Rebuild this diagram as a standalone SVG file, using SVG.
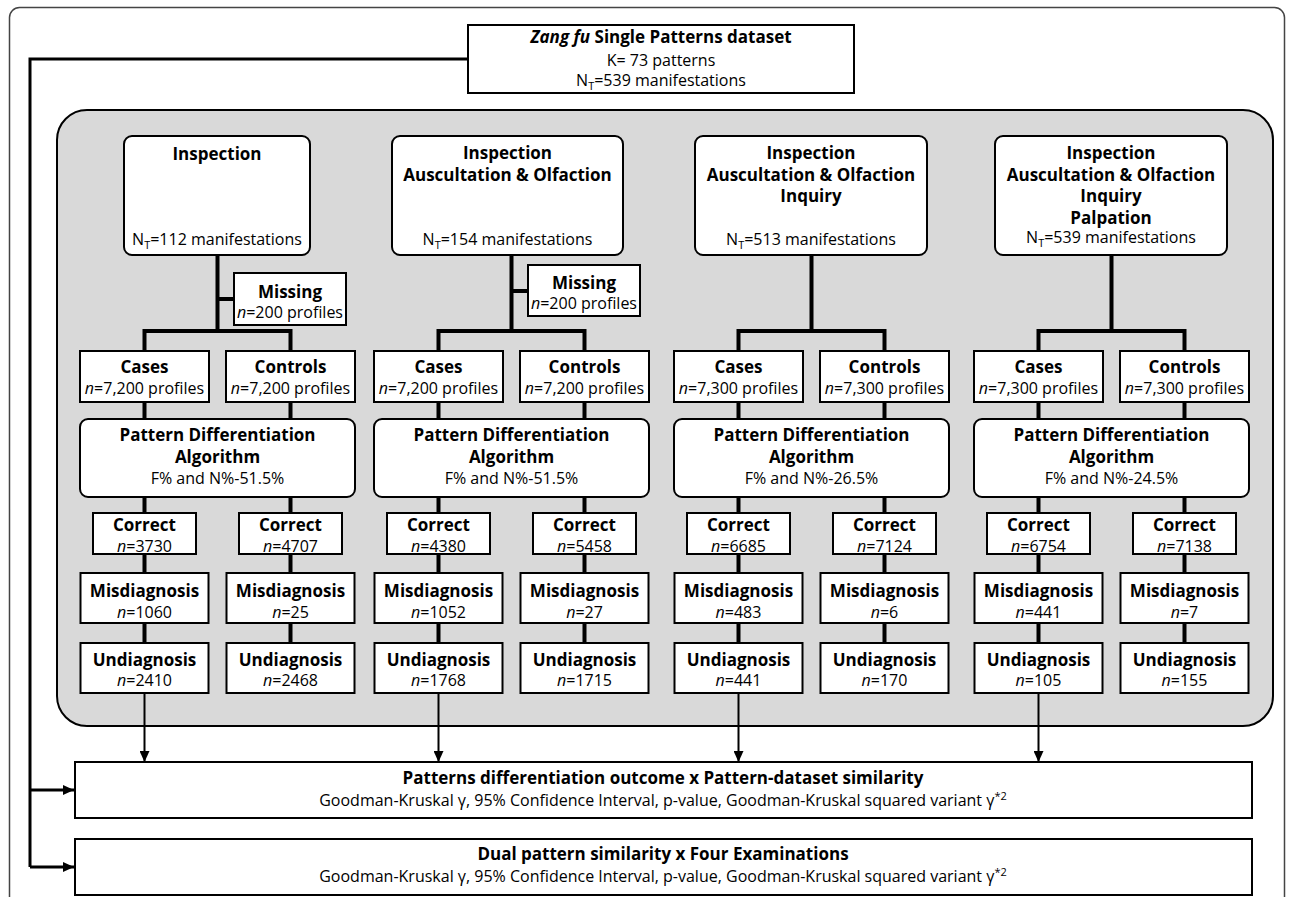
<svg xmlns="http://www.w3.org/2000/svg" width="1292" height="897" viewBox="0 0 1292 897">
<defs>
<style>
.box{fill:#fff;stroke:#000;stroke-width:2}
.gray{fill:#d9d9d9;stroke:#000;stroke-width:2}
.t{font-family:"Open Sans","DejaVu Sans",sans-serif;text-anchor:middle;fill:#000}
.b{font-weight:700;font-size:17px}
.r{font-weight:400;font-size:16px}
.conn{stroke:#000;stroke-width:4;fill:none}
.arr{stroke:#000;stroke-width:2;fill:none;marker-end:url(#ah)}
.arr3{stroke:#000;stroke-width:3;fill:none;marker-end:url(#ah)}
</style>
<marker id="ah" markerUnits="userSpaceOnUse" markerWidth="12" markerHeight="10" refX="11" refY="5" orient="auto">
<path d="M0,0 L11,5 L0,10 Z" fill="#000"/>
</marker>
</defs>
<rect x="0" y="0" width="1292" height="897" fill="#fff"/>
<rect x="9.5" y="7.5" width="1275" height="930" rx="10" fill="none" stroke="#444" stroke-width="1.5"/>
<rect class="gray" x="57" y="110" width="1216" height="616" rx="30"/>

<g id="connectors">
<path d="M468,59 H30 V867" style="stroke:#000;stroke-width:3;fill:none"/>
<path class="arr3" d="M30,790 H74"/>
<path class="arr3" d="M30,867 H74"/>
<path class="conn" d="M217.5,255 V331 M144.5,351 V331 H290.5 V351 M217.5,299 H234"/>
<path class="conn" d="M144.5,402 V419 M290.5,402 V419 M144.5,497 V513 M290.5,497 V513 M144.5,554 V573 M290.5,554 V573 M144.5,623 V643 M290.5,623 V643"/>
<path class="arr" d="M144.5,693 V762"/>
<path class="conn" d="M511.5,255 V331 M438.5,351 V331 H584.5 V351 M511.5,291 H528"/>
<path class="conn" d="M438.5,402 V419 M584.5,402 V419 M438.5,497 V513 M584.5,497 V513 M438.5,554 V573 M584.5,554 V573 M438.5,623 V643 M584.5,623 V643"/>
<path class="arr" d="M438.5,693 V762"/>
<path class="conn" d="M811.5,255 V331 M738.5,351 V331 H884.5 V351"/>
<path class="conn" d="M738.5,402 V419 M884.5,402 V419 M738.5,497 V513 M884.5,497 V513 M738.5,554 V573 M884.5,554 V573 M738.5,623 V643 M884.5,623 V643"/>
<path class="arr" d="M738.5,693 V762"/>
<path class="conn" d="M1111.5,255 V331 M1038.5,351 V331 H1184.5 V351"/>
<path class="conn" d="M1038.5,402 V419 M1184.5,402 V419 M1038.5,497 V513 M1184.5,497 V513 M1038.5,554 V573 M1184.5,554 V573 M1038.5,623 V643 M1184.5,623 V643"/>
<path class="arr" d="M1038.5,693 V762"/>
</g>

<g id="dataset">
<rect class="box" x="468" y="25" width="386" height="68"/>
<text class="t b" x="661" y="43"><tspan font-style="italic">Zang fu</tspan> Single Patterns dataset</text>
<text class="t r" x="661" y="65.5">K= 73 patterns</text>
<text class="t r" x="661" y="86">N<tspan dy="4" font-size="11">T</tspan><tspan dy="-4">=539 manifestations</tspan></text>
</g>

<g id="exam1">
<rect class="box" x="124" y="136" width="186" height="119" rx="8"/>
<text class="t b" x="217" y="160">Inspection</text>
<text class="t r" x="217" y="245">N<tspan dy="4" font-size="11">T</tspan><tspan dy="-4">=112 manifestations</tspan></text>
</g>
<g id="exam2">
<rect class="box" x="392" y="136" width="231" height="119" rx="8"/>
<text class="t b" x="507.5" y="159">Inspection</text>
<text class="t b" x="507.5" y="180.5">Auscultation &amp; Olfaction</text>
<text class="t r" x="507.5" y="245">N<tspan dy="4" font-size="11">T</tspan><tspan dy="-4">=154 manifestations</tspan></text>
</g>
<g id="exam3">
<rect class="box" x="695" y="136" width="232" height="119" rx="8"/>
<text class="t b" x="811" y="159">Inspection</text>
<text class="t b" x="811" y="180.5">Auscultation &amp; Olfaction</text>
<text class="t b" x="811" y="202">Inquiry</text>
<text class="t r" x="811" y="245">N<tspan dy="4" font-size="11">T</tspan><tspan dy="-4">=513 manifestations</tspan></text>
</g>
<g id="exam4">
<rect class="box" x="995" y="136" width="232" height="119" rx="8"/>
<text class="t b" x="1111" y="159">Inspection</text>
<text class="t b" x="1111" y="180.5">Auscultation &amp; Olfaction</text>
<text class="t b" x="1111" y="202">Inquiry</text>
<text class="t b" x="1111" y="223.5">Palpation</text>
<text class="t r" x="1111" y="243">N<tspan dy="4" font-size="11">T</tspan><tspan dy="-4">=539 manifestations</tspan></text>
</g>

<g id="missing1">
<rect class="box" x="234" y="273" width="112" height="52"/>
<text class="t b" x="290" y="298">Missing</text>
<text class="t r" x="290" y="317.5"><tspan font-style="italic">n</tspan>=200 profiles</text>
</g>
<g id="missing2">
<rect class="box" x="528" y="265" width="112" height="51"/>
<text class="t b" x="584" y="289">Missing</text>
<text class="t r" x="584" y="308.5"><tspan font-style="italic">n</tspan>=200 profiles</text>
</g>

<g id="cases1" transform="translate(144.5,0)"><rect class="box" x="-64.5" y="351" width="129" height="51"/><text class="t b" x="0" y="373">Cases</text><text class="t r" x="0" y="393.5"><tspan font-style="italic">n</tspan>=7,200 profiles</text></g>
<g id="controls1" transform="translate(290.5,0)"><rect class="box" x="-64.5" y="351" width="129" height="51"/><text class="t b" x="0" y="373">Controls</text><text class="t r" x="0" y="393.5"><tspan font-style="italic">n</tspan>=7,200 profiles</text></g>
<g id="pda1" transform="translate(144.5,0)"><rect class="box" x="-64.5" y="419" width="275" height="78" rx="8"/><text class="t b" x="73" y="441">Pattern Differentiation</text><text class="t b" x="73" y="463">Algorithm</text><text class="t r" x="73" y="483.5">F% and N%-51.5%</text></g>
<g id="correct1a" transform="translate(144.5,0)"><rect class="box" x="-51.5" y="513" width="103" height="41"/><text class="t b" x="0" y="531">Correct</text><text class="t r" x="0" y="551.5"><tspan font-style="italic">n</tspan>=3730</text></g>
<g id="correct1b" transform="translate(290.5,0)"><rect class="box" x="-51.5" y="513" width="103" height="41"/><text class="t b" x="0" y="531">Correct</text><text class="t r" x="0" y="551.5"><tspan font-style="italic">n</tspan>=4707</text></g>
<g id="mis1a" transform="translate(144.5,0)"><rect class="box" x="-64" y="573" width="128" height="50"/><text class="t b" x="0" y="597">Misdiagnosis</text><text class="t r" x="0" y="617.5"><tspan font-style="italic">n</tspan>=1060</text></g>
<g id="mis1b" transform="translate(290.5,0)"><rect class="box" x="-64" y="573" width="128" height="50"/><text class="t b" x="0" y="597">Misdiagnosis</text><text class="t r" x="0" y="617.5"><tspan font-style="italic">n</tspan>=25</text></g>
<g id="und1a" transform="translate(144.5,0)"><rect class="box" x="-64" y="643" width="128" height="50"/><text class="t b" x="0" y="666">Undiagnosis</text><text class="t r" x="0" y="686"><tspan font-style="italic">n</tspan>=2410</text></g>
<g id="und1b" transform="translate(290.5,0)"><rect class="box" x="-64" y="643" width="128" height="50"/><text class="t b" x="0" y="666">Undiagnosis</text><text class="t r" x="0" y="686"><tspan font-style="italic">n</tspan>=2468</text></g>

<g id="cases2" transform="translate(438.5,0)"><rect class="box" x="-64.5" y="351" width="129" height="51"/><text class="t b" x="0" y="373">Cases</text><text class="t r" x="0" y="393.5"><tspan font-style="italic">n</tspan>=7,200 profiles</text></g>
<g id="controls2" transform="translate(584.5,0)"><rect class="box" x="-64.5" y="351" width="129" height="51"/><text class="t b" x="0" y="373">Controls</text><text class="t r" x="0" y="393.5"><tspan font-style="italic">n</tspan>=7,200 profiles</text></g>
<g id="pda2" transform="translate(438.5,0)"><rect class="box" x="-64.5" y="419" width="275" height="78" rx="8"/><text class="t b" x="73" y="441">Pattern Differentiation</text><text class="t b" x="73" y="463">Algorithm</text><text class="t r" x="73" y="483.5">F% and N%-51.5%</text></g>
<g id="correct2a" transform="translate(438.5,0)"><rect class="box" x="-51.5" y="513" width="103" height="41"/><text class="t b" x="0" y="531">Correct</text><text class="t r" x="0" y="551.5"><tspan font-style="italic">n</tspan>=4380</text></g>
<g id="correct2b" transform="translate(584.5,0)"><rect class="box" x="-51.5" y="513" width="103" height="41"/><text class="t b" x="0" y="531">Correct</text><text class="t r" x="0" y="551.5"><tspan font-style="italic">n</tspan>=5458</text></g>
<g id="mis2a" transform="translate(438.5,0)"><rect class="box" x="-64" y="573" width="128" height="50"/><text class="t b" x="0" y="597">Misdiagnosis</text><text class="t r" x="0" y="617.5"><tspan font-style="italic">n</tspan>=1052</text></g>
<g id="mis2b" transform="translate(584.5,0)"><rect class="box" x="-64" y="573" width="128" height="50"/><text class="t b" x="0" y="597">Misdiagnosis</text><text class="t r" x="0" y="617.5"><tspan font-style="italic">n</tspan>=27</text></g>
<g id="und2a" transform="translate(438.5,0)"><rect class="box" x="-64" y="643" width="128" height="50"/><text class="t b" x="0" y="666">Undiagnosis</text><text class="t r" x="0" y="686"><tspan font-style="italic">n</tspan>=1768</text></g>
<g id="und2b" transform="translate(584.5,0)"><rect class="box" x="-64" y="643" width="128" height="50"/><text class="t b" x="0" y="666">Undiagnosis</text><text class="t r" x="0" y="686"><tspan font-style="italic">n</tspan>=1715</text></g>

<g id="cases3" transform="translate(738.5,0)"><rect class="box" x="-64.5" y="351" width="129" height="51"/><text class="t b" x="0" y="373">Cases</text><text class="t r" x="0" y="393.5"><tspan font-style="italic">n</tspan>=7,300 profiles</text></g>
<g id="controls3" transform="translate(884.5,0)"><rect class="box" x="-64.5" y="351" width="129" height="51"/><text class="t b" x="0" y="373">Controls</text><text class="t r" x="0" y="393.5"><tspan font-style="italic">n</tspan>=7,300 profiles</text></g>
<g id="pda3" transform="translate(738.5,0)"><rect class="box" x="-64.5" y="419" width="275" height="78" rx="8"/><text class="t b" x="73" y="441">Pattern Differentiation</text><text class="t b" x="73" y="463">Algorithm</text><text class="t r" x="73" y="483.5">F% and N%-26.5%</text></g>
<g id="correct3a" transform="translate(738.5,0)"><rect class="box" x="-51.5" y="513" width="103" height="41"/><text class="t b" x="0" y="531">Correct</text><text class="t r" x="0" y="551.5"><tspan font-style="italic">n</tspan>=6685</text></g>
<g id="correct3b" transform="translate(884.5,0)"><rect class="box" x="-51.5" y="513" width="103" height="41"/><text class="t b" x="0" y="531">Correct</text><text class="t r" x="0" y="551.5"><tspan font-style="italic">n</tspan>=7124</text></g>
<g id="mis3a" transform="translate(738.5,0)"><rect class="box" x="-64" y="573" width="128" height="50"/><text class="t b" x="0" y="597">Misdiagnosis</text><text class="t r" x="0" y="617.5"><tspan font-style="italic">n</tspan>=483</text></g>
<g id="mis3b" transform="translate(884.5,0)"><rect class="box" x="-64" y="573" width="128" height="50"/><text class="t b" x="0" y="597">Misdiagnosis</text><text class="t r" x="0" y="617.5"><tspan font-style="italic">n</tspan>=6</text></g>
<g id="und3a" transform="translate(738.5,0)"><rect class="box" x="-64" y="643" width="128" height="50"/><text class="t b" x="0" y="666">Undiagnosis</text><text class="t r" x="0" y="686"><tspan font-style="italic">n</tspan>=441</text></g>
<g id="und3b" transform="translate(884.5,0)"><rect class="box" x="-64" y="643" width="128" height="50"/><text class="t b" x="0" y="666">Undiagnosis</text><text class="t r" x="0" y="686"><tspan font-style="italic">n</tspan>=170</text></g>

<g id="cases4" transform="translate(1038.5,0)"><rect class="box" x="-64.5" y="351" width="129" height="51"/><text class="t b" x="0" y="373">Cases</text><text class="t r" x="0" y="393.5"><tspan font-style="italic">n</tspan>=7,300 profiles</text></g>
<g id="controls4" transform="translate(1184.5,0)"><rect class="box" x="-64.5" y="351" width="129" height="51"/><text class="t b" x="0" y="373">Controls</text><text class="t r" x="0" y="393.5"><tspan font-style="italic">n</tspan>=7,300 profiles</text></g>
<g id="pda4" transform="translate(1038.5,0)"><rect class="box" x="-64.5" y="419" width="275" height="78" rx="8"/><text class="t b" x="73" y="441">Pattern Differentiation</text><text class="t b" x="73" y="463">Algorithm</text><text class="t r" x="73" y="483.5">F% and N%-24.5%</text></g>
<g id="correct4a" transform="translate(1038.5,0)"><rect class="box" x="-51.5" y="513" width="103" height="41"/><text class="t b" x="0" y="531">Correct</text><text class="t r" x="0" y="551.5"><tspan font-style="italic">n</tspan>=6754</text></g>
<g id="correct4b" transform="translate(1184.5,0)"><rect class="box" x="-51.5" y="513" width="103" height="41"/><text class="t b" x="0" y="531">Correct</text><text class="t r" x="0" y="551.5"><tspan font-style="italic">n</tspan>=7138</text></g>
<g id="mis4a" transform="translate(1038.5,0)"><rect class="box" x="-64" y="573" width="128" height="50"/><text class="t b" x="0" y="597">Misdiagnosis</text><text class="t r" x="0" y="617.5"><tspan font-style="italic">n</tspan>=441</text></g>
<g id="mis4b" transform="translate(1184.5,0)"><rect class="box" x="-64" y="573" width="128" height="50"/><text class="t b" x="0" y="597">Misdiagnosis</text><text class="t r" x="0" y="617.5"><tspan font-style="italic">n</tspan>=7</text></g>
<g id="und4a" transform="translate(1038.5,0)"><rect class="box" x="-64" y="643" width="128" height="50"/><text class="t b" x="0" y="666">Undiagnosis</text><text class="t r" x="0" y="686"><tspan font-style="italic">n</tspan>=105</text></g>
<g id="und4b" transform="translate(1184.5,0)"><rect class="box" x="-64" y="643" width="128" height="50"/><text class="t b" x="0" y="666">Undiagnosis</text><text class="t r" x="0" y="686"><tspan font-style="italic">n</tspan>=155</text></g>

<g id="outcome">
<rect class="box" x="75" y="762" width="1177" height="56"/>
<text class="t b" x="663" y="784">Patterns differentiation outcome x Pattern-dataset similarity</text>
<text class="t r" x="663" y="806">Goodman-Kruskal γ, 95% Confidence Interval, p-value, Goodman-Kruskal squared variant γ<tspan dy="-6" font-size="11">*2</tspan></text>
</g>
<g id="dual">
<rect class="box" x="75" y="839" width="1177" height="56"/>
<text class="t b" x="663" y="860">Dual pattern similarity x Four Examinations</text>
<text class="t r" x="663" y="882">Goodman-Kruskal γ, 95% Confidence Interval, p-value, Goodman-Kruskal squared variant γ<tspan dy="-6" font-size="11">*2</tspan></text>
</g>
</svg>
